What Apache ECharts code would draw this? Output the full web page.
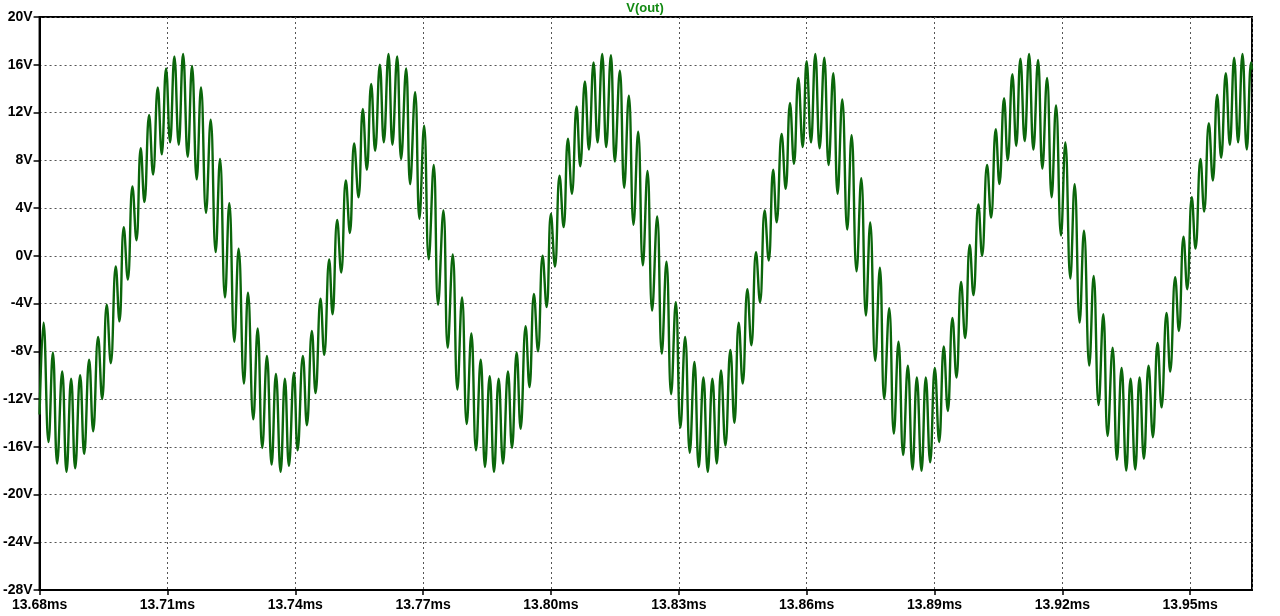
<!DOCTYPE html>
<html>
<head>
<meta charset="utf-8">
<script src="https://cdn.jsdelivr.net/npm/echarts@6/dist/echarts.min.js"></script>
<style>
html,body{margin:0;padding:0;background:#fff;}
#chart{width:1280px;height:616px;}
</style>
</head>
<body>
<div id="chart"></div>
<script>
// Trace name
const traceName = 'V(out)';
// Time of each local extremum (ms)
const timeMs = [
13.68000,13.68093,13.68210,13.68312,13.68413,13.68531,13.68632,13.68741,13.68835,13.68952,
13.69046,13.69163,13.69257,13.69374,13.69468,13.69577,13.69671,13.69788,13.69874,13.69976,
13.70070,13.70179,13.70273,13.70374,13.70460,13.70570,13.70663,13.70773,13.70867,13.70968,
13.71062,13.71163,13.71265,13.71367,13.71476,13.71577,13.71687,13.71788,13.71906,13.72015,
13.72132,13.72234,13.72351,13.72452,13.72570,13.72671,13.72796,13.72890,13.73015,13.73117,
13.73226,13.73335,13.73445,13.73546,13.73656,13.73757,13.73851,13.73968,13.74054,13.74179,
13.74273,13.74390,13.74476,13.74593,13.74679,13.74796,13.74874,13.74984,13.75077,13.75187,
13.75281,13.75382,13.75484,13.75585,13.75679,13.75781,13.75874,13.75984,13.76077,13.76187,
13.76280,13.76390,13.76484,13.76601,13.76695,13.76812,13.76913,13.77023,13.77132,13.77249,
13.77351,13.77476,13.77577,13.77695,13.77804,13.77913,13.78023,13.78132,13.78241,13.78351,
13.78452,13.78562,13.78663,13.78773,13.78874,13.78991,13.79085,13.79195,13.79288,13.79406,
13.79495,13.79601,13.79695,13.79804,13.79898,13.79999,13.80093,13.80202,13.80296,13.80398,
13.80491,13.80601,13.80687,13.80796,13.80890,13.80999,13.81093,13.81202,13.81296,13.81406,
13.81499,13.81616,13.81718,13.81827,13.81937,13.82046,13.82156,13.82265,13.82374,13.82492,
13.82601,13.82710,13.82820,13.82929,13.83038,13.83148,13.83257,13.83366,13.83468,13.83577,
13.83679,13.83788,13.83890,13.83991,13.84093,13.84210,13.84304,13.84406,13.84499,13.84609,
13.84702,13.84812,13.84905,13.85015,13.85109,13.85214,13.85296,13.85413,13.85507,13.85609,
13.85702,13.85804,13.85906,13.85999,13.86101,13.86202,13.86304,13.86413,13.86515,13.86624,
13.86726,13.86835,13.86952,13.87054,13.87171,13.87281,13.87390,13.87491,13.87609,13.87718,
13.87820,13.87937,13.88046,13.88155,13.88265,13.88374,13.88484,13.88585,13.88695,13.88796,
13.88898,13.89007,13.89109,13.89218,13.89312,13.89421,13.89515,13.89624,13.89718,13.89827,
13.89913,13.90030,13.90116,13.90234,13.90327,13.90437,13.90523,13.90632,13.90718,13.90827,
13.90917,13.91015,13.91116,13.91218,13.91320,13.91429,13.91531,13.91640,13.91749,13.91851,
13.91968,13.92070,13.92187,13.92288,13.92406,13.92507,13.92632,13.92734,13.92851,13.92960,
13.93062,13.93179,13.93281,13.93390,13.93499,13.93601,13.93710,13.93812,13.93913,13.94023,
13.94124,13.94234,13.94327,13.94445,13.94530,13.94648,13.94734,13.94843,13.94929,13.95038,
13.95124,13.95241,13.95327,13.95437,13.95531,13.95632,13.95726,13.95835,13.95929,13.96031,
13.96124,13.96226,13.96327,13.96429,13.96450
];
// Voltage at each of those points (V)
const vOut = [
-13.3,-5.6,-15.6,-8.1,-17.4,-9.7,-18.1,-10.3,-17.8,-10.0,
-16.6,-8.7,-14.7,-6.8,-12.0,-4.1,-9.0,-0.9,-5.5,2.4,
-2.0,5.8,1.3,9.0,4.5,11.8,6.8,14.1,8.5,15.7,
9.5,16.7,9.3,16.9,8.3,15.9,6.4,14.1,3.6,11.4,
0.3,8.1,-3.5,4.4,-7.2,0.6,-10.7,-3.1,-13.7,-6.1,
-16.1,-8.4,-17.5,-9.9,-18.1,-10.3,-17.6,-9.8,-16.3,-8.4,
-14.2,-6.3,-11.5,-3.6,-8.3,-0.3,-4.9,3.0,-1.4,6.3,
1.9,9.4,4.9,12.3,7.2,14.4,8.8,16.0,9.5,16.9,
9.3,16.7,8.1,15.7,6.0,13.7,3.1,10.9,-0.3,7.6,
-4.1,3.8,-7.7,0.1,-11.2,-3.5,-14.1,-6.5,-16.3,-8.7,
-17.7,-10.1,-18.1,-10.3,-17.4,-9.7,-16.1,-8.1,-14.5,-5.9,
-11.0,-3.2,-8.0,0.0,-4.3,3.5,-0.9,6.7,2.4,9.8,
5.2,12.5,7.5,14.6,8.9,16.2,9.5,16.9,9.1,16.8,
7.9,15.5,5.7,13.4,2.6,10.4,-0.8,7.1,-4.6,3.3,
-8.2,-0.5,-11.6,-3.9,-14.4,-6.8,-16.5,-8.9,-17.7,-10.2,
-18.1,-10.3,-17.4,-9.6,-15.9,-7.9,-14.0,-5.6,-10.7,-2.8,
-7.5,0.3,-3.9,3.8,-0.4,7.2,2.8,10.2,5.6,12.8,
7.7,14.9,9.1,16.3,9.5,16.9,9.0,16.6,7.6,15.3,
5.2,13.1,2.2,10.1,-1.3,6.5,-5.0,2.8,-8.8,-1.0,
-12.0,-4.4,-14.9,-7.2,-16.7,-9.2,-17.9,-10.2,-18.0,-10.2,
-17.3,-9.4,-15.6,-7.6,-13.0,-5.2,-10.2,-2.2,-6.9,0.9,
-3.3,4.3,0.0,7.6,3.2,10.6,6.0,13.2,8.0,15.2,
9.2,16.5,9.6,16.9,8.9,16.4,7.3,14.9,4.9,12.6,
1.7,9.5,-1.9,6.0,-5.6,2.1,-9.2,-1.7,-12.5,-4.9,
-15.1,-7.7,-17.1,-9.4,-18.0,-10.3,-17.9,-10.2,-17.0,-9.2,
-15.2,-7.3,-12.7,-4.8,-9.7,-1.8,-6.3,1.6,-2.8,4.9,
0.6,8.1,3.7,11.1,6.3,13.5,8.2,15.3,9.3,16.6,
9.5,16.9,8.9,16.2,15.6
];
// Axis ranges / ticks
const xMin = 13.68, xMax = 13.9645, xStep = 0.03;
const yMin = -28, yMax = 20, yStep = 4;

const chart = echarts.init(document.getElementById('chart'), null, {renderer: 'canvas'});
const seriesData = timeMs.map((t, i) => [t, vOut[i]]);
const labelFont = {color: '#000', fontFamily: 'Liberation Sans, Arial, sans-serif', fontWeight: 'bold', fontSize: 14};
chart.setOption({
  animation: false,
  backgroundColor: '#fff',
  title: {
    text: traceName,
    left: 645, top: 2, textAlign: 'center', padding: 0,
    textStyle: {color: '#138a13', fontFamily: 'Liberation Sans, Arial, sans-serif', fontWeight: 'bold', fontSize: 13}
  },
  grid: {left: 38, top: 17, right: 28, bottom: 26, show: true, borderColor: '#000', borderWidth: 2, backgroundColor: 'transparent'},
  xAxis: {
    type: 'value', min: xMin, max: xMax, interval: xStep,
    axisLine: {show: true, onZero: false, lineStyle: {color: '#000', width: 2}},
    axisTick: {show: true, length: 5, lineStyle: {color: '#000', width: 1.5}},
    axisLabel: Object.assign({margin: 8, showMaxLabel: false, formatter: v => v.toFixed(2) + 'ms'}, labelFont),
    splitLine: {show: true, lineStyle: {color: '#555', type: [2, 3], width: 1}}
  },
  yAxis: {
    type: 'value', min: yMin, max: yMax, interval: yStep,
    axisLine: {show: true, onZero: false, lineStyle: {color: '#000', width: 2}},
    axisTick: {show: true, length: 6, lineStyle: {color: '#000', width: 1.5}},
    axisLabel: Object.assign({margin: 7, formatter: v => v + 'V'}, labelFont),
    splitLine: {show: true, lineStyle: {color: '#555', type: [2, 3], width: 1}}
  },
  series: [{
    name: traceName, type: 'line', data: seriesData,
    showSymbol: false, symbol: 'none', smooth: 0.45,
    lineStyle: {color: '#0b660b', width: 2.4},
    clip: true
  }]
});
</script>
</body>
</html>
